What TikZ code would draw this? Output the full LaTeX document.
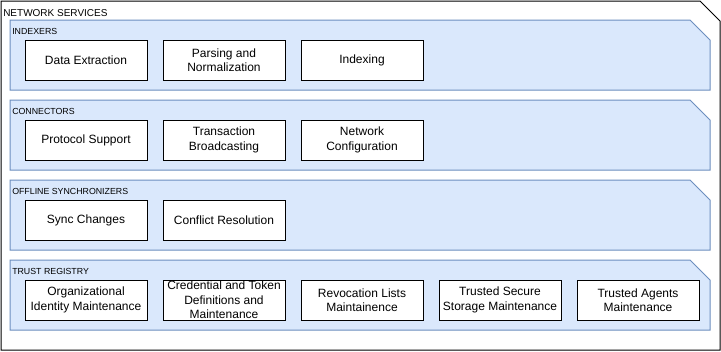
\documentclass[tikz,border=0pt]{standalone}
\usepackage{fontspec}
\setmainfont{Liberation Sans}
\usetikzlibrary{positioning, calc}
\definecolor{laneFill}{HTML}{DAE8FC}
\definecolor{laneLine}{HTML}{6C8EBF}

\begin{document}
\begin{tikzpicture}[x=0.75pt, y=-0.75pt, node distance=12pt,
    lane/.style={draw=laneLine, fill=laneFill, line width=0.75pt},
    lanelabel/.style={anchor=west, inner sep=0pt, font=\fontsize{6.6}{7}\selectfont},
    task/.style={draw, fill=white, line width=0.75pt, outer sep=0pt, inner sep=0pt,
        minimum width=91.5pt, minimum height=30pt, align=center,
        font=\fontsize{9}{10.8}\selectfont}]
    \useasboundingbox (0,0) rectangle (721,351);

    % Outer frame
    \draw[line width=0.75pt, fill=white] (1,1) -- (700,1) -- (720,21) -- (720,350) -- (1,350) -- cycle;
    \node[anchor=west, inner sep=0pt, font=\fontsize{7.5}{8}\selectfont] (net) at (3,13) {NETWORK SERVICES};

    % Indexers
    \coordinate (idx) at (10,20);
    \draw[lane] (idx) -- ++(680,0) -- ++(20,20) -- ++(0,50) -- ++(-700,0) -- cycle;
    \node[lanelabel] (idxlabel) at ($(idx)+(2,11)$) {INDEXERS};
    \node[task] (extract) at ($(idx)+(76,40)$) {Data Extraction};
    \node[task, right=of extract] (parse) {Parsing and\\Normalization};
    \node[task, right=of parse] (index) {Indexing};

    % Connectors
    \coordinate (con) at (10,100);
    \draw[lane] (con) -- ++(680,0) -- ++(20,20) -- ++(0,50) -- ++(-700,0) -- cycle;
    \node[lanelabel] (conlabel) at ($(con)+(2,11)$) {CONNECTORS};
    \node[task] (protocol) at ($(con)+(76,40)$) {Protocol Support};
    \node[task, right=of protocol] (broadcast) {Transaction\\Broadcasting};
    \node[task, right=of broadcast] (netconf) {Network\\Configuration};

    % Offline synchronizers
    \coordinate (sync) at (10,180);
    \draw[lane] (sync) -- ++(680,0) -- ++(20,20) -- ++(0,50) -- ++(-700,0) -- cycle;
    \node[lanelabel] (synclabel) at ($(sync)+(2,11)$) {OFFLINE SYNCHRONIZERS};
    \node[task] (changes) at ($(sync)+(76,40)$) {Sync Changes};
    \node[task, right=of changes] (conflict) {Conflict Resolution};

    % Trust registry
    \coordinate (trust) at (10,260);
    \draw[lane] (trust) -- ++(680,0) -- ++(20,20) -- ++(0,50) -- ++(-700,0) -- cycle;
    \node[lanelabel] (trustlabel) at ($(trust)+(2,11)$) {TRUST REGISTRY};
    \node[task] (orgid) at ($(trust)+(76,40)$) {Organizational\\Identity Maintenance};
    \node[task, right=of orgid] (credtoken) {Credential and Token\\Definitions and\\Maintenance};
    \node[task, right=of credtoken] (revoke) {Revocation Lists\\Maintainence};
    \node[task, right=of revoke] (storage) {Trusted Secure\\Storage Maintenance};
    \node[task, right=of storage] (agents) {Trusted Agents\\Maintenance};

\end{tikzpicture}
\end{document}
